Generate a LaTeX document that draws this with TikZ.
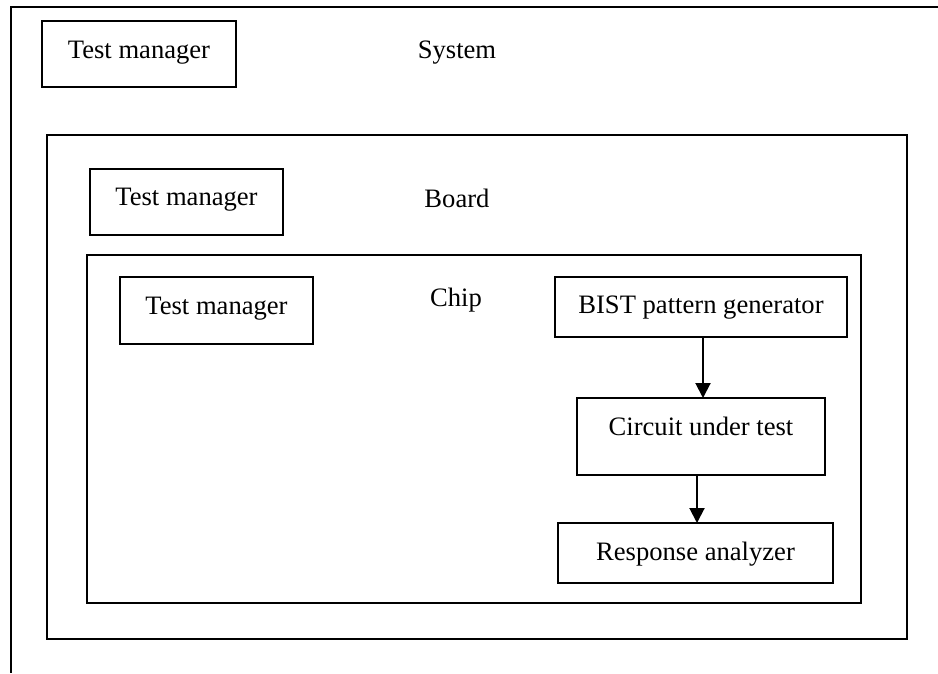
\documentclass[tikz,border=0pt]{standalone}
\usepackage{fontspec}
\setmainfont{Liberation Serif}
\usetikzlibrary{arrows.meta}
\begin{document}
\begin{tikzpicture}[x=1pt,y=-1pt,
  frame/.style={draw=black,line width=1.8pt,inner sep=0pt,outer sep=0pt},
  tmbox/.style={frame,line width=2.6pt},
  unitbox/.style={frame,line width=2pt},
  txt/.style={anchor=base,inner sep=0pt,font=\fontsize{26.6}{32}\selectfont},
  arr/.style={line width=2pt,-{Triangle[width=15pt,length=15pt]}}]
\useasboundingbox (0,0) rectangle (938,673);

% system level: open frame (left and top edges only)
\coordinate (sysTR) at (938,7);
\coordinate (sysTL) at (11,7);
\coordinate (sysBL) at (11,673);
\draw[line width=1.8pt] (sysTR) -- (sysTL) -- (sysBL);
\node[tmbox,minimum width=194pt,minimum height=66pt] (tm1) at (139,54) {};
\node[txt] (tm1t) at ([yshift=-37pt]tm1.north) {Test manager};
\node[txt] (syst) at (457,58) {System};

% board level
\node[frame,minimum width=860pt,minimum height=504pt] (board) at (477,387) {};
\node[tmbox,minimum width=193pt,minimum height=66pt] (tm2) at (186.5,202) {};
\node[txt] (tm2t) at ([yshift=-36pt]tm2.north) {Test manager};
\node[txt] (boardt) at (457,207) {Board};

% chip level
\node[frame,minimum width=774pt,minimum height=348pt] (chip) at (474,429) {};
\node[tmbox,minimum width=193pt,minimum height=67pt] (tm3) at (216.5,310.5) {};
\node[txt] (tm3t) at ([yshift=-37pt]tm3.north) {Test manager};
\node[txt] (chipt) at (456,306) {Chip};

% BIST chain
\node[unitbox,minimum width=292pt,minimum height=60pt] (bist) at (701,307) {};
\node[txt] (bistt) at ([yshift=-36pt]bist.north) {BIST pattern generator};
\node[unitbox,minimum width=248pt,minimum height=77pt] (cut) at (701,436.5) {};
\node[txt] (cutt) at ([yshift=-37pt]cut.north) {Circuit under test};
\node[unitbox,minimum width=275pt,minimum height=60pt] (ra) at (695.5,553) {};
\node[txt] (rat) at ([yshift=-37pt]ra.north) {Response analyzer};

\draw[arr] ([xshift=2pt]bist.south) -- ([xshift=2pt]bist.south |- cut.north);
\draw[arr] ([xshift=-4pt]cut.south) -- ([xshift=-4pt]cut.south |- ra.north);
\end{tikzpicture}
\end{document}
